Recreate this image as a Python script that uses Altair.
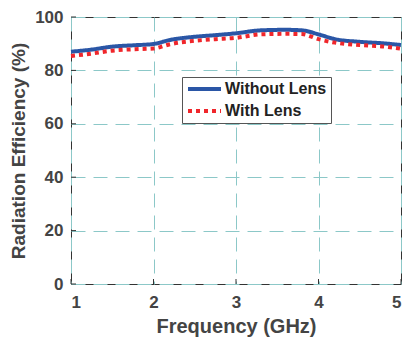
import altair as alt
import pandas as pd

freq = [1.0, 1.25, 1.5, 1.75, 2.0, 2.2, 2.5, 2.75, 3.0, 3.3, 3.6, 3.8, 4.0, 4.2, 4.5, 4.8, 5.0]
without_lens = [87.0, 87.8, 88.9, 89.4, 89.9, 91.4, 92.6, 93.2, 93.9, 95.0, 95.2, 95.0, 93.5, 91.7, 90.7, 90.1, 89.5]
with_lens = [85.4, 86.3, 87.4, 87.9, 88.2, 89.8, 91.1, 91.7, 92.2, 93.5, 93.7, 93.6, 91.7, 90.4, 89.5, 88.9, 88.1]
series_names = ["Without Lens", "With Lens"]
y_ticks = [0, 20, 40, 60, 80, 100]
x_ticks = [1, 2, 3, 4, 5]

rows = []
for f, a, b in zip(freq, without_lens, with_lens):
    rows.append({"freq": f, "eff": a, "series": series_names[0]})
    rows.append({"freq": f, "eff": b, "series": series_names[1]})
df = pd.DataFrame(rows)

font = "Liberation Sans"

x_enc = alt.X("freq:Q", scale=alt.Scale(domain=[1, 5], nice=False),
              axis=alt.Axis(values=x_ticks, title="Frequency (GHz)", format="d",
                            labelPadding=10, titlePadding=6, titleFontSize=20))
y_enc = alt.Y("eff:Q", scale=alt.Scale(domain=[0, 100], nice=False),
              axis=alt.Axis(values=y_ticks, title="Radiation Efficiency (%)",
                            labelPadding=8, titlePadding=6, titleFontSize=19))

lines = alt.Chart(df).mark_line(strokeWidth=4, interpolate="monotone").encode(
    x=x_enc,
    y=y_enc,
    color=alt.Color("series:N", sort=series_names,
                    scale=alt.Scale(domain=series_names, range=["#2a56a6", "#f0262b"]),
                    legend=alt.Legend(title=None, orient="none", legendX=111, legendY=60,
                                      symbolType="stroke", symbolSize=1089, symbolStrokeWidth=4,
                                      clipHeight=16,
                                      labelFont=font, labelFontSize=16, labelFontWeight="bold",
                                      labelColor="#222222", fillColor="white", strokeColor="#555555",
                                      padding=4, rowPadding=6, labelOffset=2)),
    strokeDash=alt.StrokeDash("series:N", sort=series_names,
                              scale=alt.Scale(domain=series_names, range=[[1, 0], [4, 4]]),
                              legend=None),
)

# inward tick marks along the left and bottom edges
ytick_df = pd.DataFrame({"v": y_ticks})
xtick_df = pd.DataFrame({"v": x_ticks})
yticks = alt.Chart(ytick_df).mark_rule(color="#333333", strokeWidth=1).encode(
    y="v:Q", x=alt.value(0), x2=alt.value(5))
xticks = alt.Chart(xtick_df).mark_rule(color="#333333", strokeWidth=1).encode(
    x="v:Q", y=alt.value(267), y2=alt.value(262))

chart = alt.layer(lines, yticks, xticks).properties(
    width=330, height=267,
    autosize=alt.AutoSizeParams(type="none"),
    padding={"left": 71, "top": 17, "right": 6, "bottom": 55},
).configure_view(stroke="#333333", strokeWidth=1).configure_axis(
    grid=True, gridColor="#8cc8c8", gridDash=[14, 8], gridWidth=1,
    domain=False, ticks=False,
    labelFont=font, labelFontSize=17, labelFontWeight="bold", labelColor="#444444",
    titleFont=font, titleFontWeight="bold", titleColor="#444444",
)

chart.save("out.html", embed_options={"renderer": "svg", "actions": False})
